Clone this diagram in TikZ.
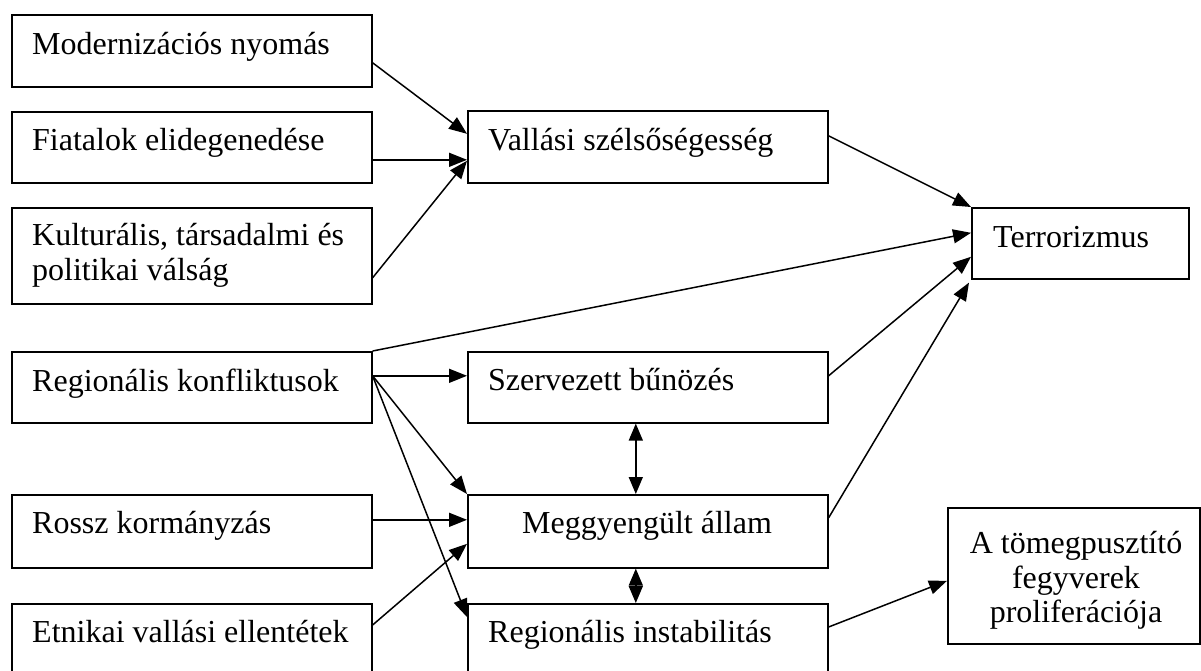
\documentclass[tikz,border=0pt]{standalone}
\usepackage{fontspec}
\setmainfont{Liberation Serif}
\usetikzlibrary{arrows.meta,calc}

\tikzset{
  box/.style={draw=black, line width=1.6pt, rectangle, inner sep=0pt, anchor=north west},
  lbl/.style={inner sep=0pt, font=\fontsize{32}{35}\selectfont},
  conn/.style={line width=1.5pt, -{Triangle[length=18pt,width=14pt]}},
  both/.style={line width=1.5pt, {Triangle[length=17pt,width=14pt]}-{Triangle[length=17pt,width=14pt]}}
}

\begin{document}
\begin{tikzpicture}[x=1pt,y=-1pt]
\useasboundingbox (0,0) rectangle (1201,670);
\clip (0,0) rectangle (1201,670);

% left column
\node[box, minimum width=360pt, minimum height=72pt] (mod) at (11,14) {};
\node[lbl, anchor=base west] (modt) at (32,54) {Modernizációs nyomás};
\node[box, minimum width=360pt, minimum height=71pt] (fia) at (11,111) {};
\node[lbl, anchor=base west] (fiat) at (32,150) {Fiatalok elidegenedése};
\node[box, minimum width=360pt, minimum height=96pt] (kul) at (11,207) {};
\node[lbl, anchor=base west] (kult) at (32,245) {Kulturális, társadalmi és};
\node[lbl, anchor=base west] (kult2) at (32,280) {politikai válság};
\node[box, minimum width=360pt, minimum height=71pt] (reg) at (11,351) {};
\node[lbl, anchor=base west] (regt) at (32,391) {Regionális konfliktusok};
\node[box, minimum width=360pt, minimum height=73pt] (ros) at (11,494) {};
\node[lbl, anchor=base west] (rost) at (32,533) {Rossz kormányzás};
\node[box, minimum width=360pt, minimum height=90pt] (etn) at (11,603) {};
\node[lbl, anchor=base west] (etnt) at (32,642) {Etnikai vallási ellentétek};

% middle column
\node[box, minimum width=360pt, minimum height=72pt] (val) at (467,110) {};
\node[lbl, anchor=base west] (valt) at (488,150) {Vallási szélsőségesség};
\node[box, minimum width=360pt, minimum height=71pt] (sze) at (467,351) {};
\node[lbl, anchor=base west] (szet) at (488,390) {Szervezett bűnözés};
\node[box, minimum width=360pt, minimum height=73pt] (meg) at (467,494) {};
\node[lbl, anchor=base] (megt) at (647,533) {Meggyengült állam};
\node[box, minimum width=360pt, minimum height=90pt] (ins) at (467,603) {};
\node[lbl, anchor=base west] (inst) at (488,642) {Regionális instabilitás};

% right column
\node[box, minimum width=217pt, minimum height=71pt] (ter) at (971,207) {};
\node[lbl, anchor=base west] (tert) at (993,247) {Terrorizmus};
\node[box, minimum width=252pt, minimum height=136pt] (tom) at (947,507) {};
\node[lbl, anchor=base] (tomt1) at (1076,553) {A tömegpusztító};
\node[lbl, anchor=base] (tomt2) at (1076,588) {fegyverek};
\node[lbl, anchor=base] (tomt3) at (1076,622) {proliferációja};

% connectors into the religious extremism box
\draw[conn] ($(mod.east)+(0,12)$) -- ($(val.west)+(0,-13)$);
\draw[conn] ($(fia.east)+(0,12.5)$) -- ($(val.west)+(0,13)$);
\draw[conn] ($(kul.east)+(0,22)$) -- ($(val.west)+(0,14)$);

% connectors into terrorism
\draw[conn] ($(val.east)+(0,-11)$) -- (ter.north west);
\draw[conn] (reg.north east) -- ($(ter.west)+(0,-10.5)$);
\draw[conn] ($(sze.east)+(0,-11.5)$) -- ($(ter.west)+(0,13.5)$);
\draw[conn] ($(meg.east)+(0,-13.5)$) -- ($(ter.south west)+(-2,3)$);

% connectors from regional conflicts
\draw[conn] ($(reg.east)+(0,-11.5)$) -- ($(sze.west)+(0,-11.5)$);
\draw[conn] ($(reg.east)+(0,-11.5)$) -- (meg.north west);
\draw[conn] ($(reg.east)+(0,-11.5)$) -- ($(ins.north west)+(0,14)$);

% connectors into the weakened state
\draw[conn] ($(ros.east)+(0,-11.5)$) -- ($(meg.west)+(0,-11.5)$);
\draw[conn] ($(etn.north east)+(0,22)$) -- ($(meg.west)+(0,12.5)$);

% mutual links in the middle column
\draw[both] ($(sze.south)+(-12,0)$) -- ($(meg.north)+(-12,0)$);
\draw[both] ($(meg.south)+(-12,0)$) -- ($(ins.north)+(-12,0)$);

% instability to proliferation
\draw[conn] ($(ins.north east)+(0,24)$) -- ($(tom.west)+(0,5)$);
\end{tikzpicture}
\end{document}
